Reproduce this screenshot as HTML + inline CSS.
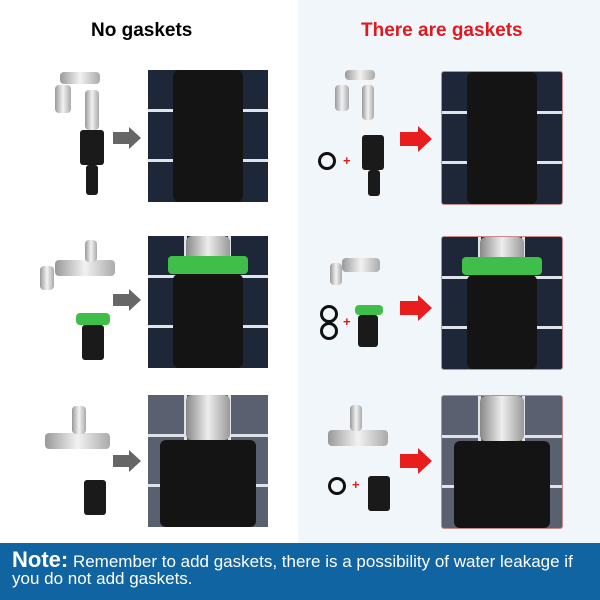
<!DOCTYPE html>
<html><head><meta charset="utf-8"><style>
body{margin:0;width:600px;height:600px;position:relative;overflow:hidden;background:#fff;font-family:"Liberation Sans",sans-serif}
.a{position:absolute}
.rbg{left:298px;top:0;width:302px;height:543px;background:#f1f6fb}
.h{font-weight:bold;font-size:19px;top:20px}
.ph{position:absolute;width:120px;height:132px;background-color:#1d2738;
background-image:linear-gradient(90deg,transparent 36px,#dfe3ea 36px,#dfe3ea 39px,transparent 39px,transparent 80px,#dfe3ea 80px,#dfe3ea 83px,transparent 83px),
linear-gradient(0deg,transparent 40px,#dfe3ea 40px,#dfe3ea 43px,transparent 43px,transparent 90px,#dfe3ea 90px,#dfe3ea 93px,transparent 93px);overflow:hidden}
.ph.r{border:1px solid #c98a8a;border-radius:3px}
.fit{position:absolute;left:25px;width:70px;background:#141414;border-radius:6px}
.grn{position:absolute;left:20px;width:80px;height:18px;background:#3fbf4a;border-radius:4px}
.pipe{position:absolute;left:38px;width:44px;background:linear-gradient(90deg,#888,#eee,#999);border-radius:6px}
.ga{position:absolute;width:0;height:0;border-top:11px solid transparent;border-bottom:11px solid transparent;border-left:12px solid #666}
.gb{position:absolute;width:16px;height:12px;background:#666}
.ra{position:absolute;width:0;height:0;border-top:13px solid transparent;border-bottom:13px solid transparent;border-left:14px solid #e81d1d}
.rb{position:absolute;width:18px;height:14px;background:#e81d1d}
.tap{position:absolute;background:linear-gradient(90deg,#999,#f2f2f2,#aaa);border-radius:4px}
.blk{position:absolute;background:#1a1a1a;border-radius:3px}
.ring{position:absolute;width:12px;height:12px;border:3px solid #111;border-radius:50%}
.plus{position:absolute;color:#e21a1a;font-weight:bold;font-size:13px}
</style></head><body>
<div class="a rbg"></div>
<div class="a h" style="left:91px">No gaskets</div>
<div class="a h" style="left:361px;color:#e0191f">There are gaskets</div>

<div class="tap" style="left:55px;top:85px;width:16px;height:28px"></div>
<div class="tap" style="left:60px;top:72px;width:40px;height:12px"></div>
<div class="tap" style="left:85px;top:90px;width:14px;height:40px"></div>
<div class="blk" style="left:80px;top:130px;width:24px;height:35px"></div>
<div class="blk" style="left:86px;top:165px;width:12px;height:30px"></div>
<div class="tap" style="left:40px;top:266px;width:14px;height:24px"></div>
<div class="tap" style="left:55px;top:260px;width:60px;height:16px"></div>
<div class="tap" style="left:85px;top:240px;width:12px;height:22px"></div>
<div class="grn" style="left:76px;top:313px;width:34px;height:12px"></div>
<div class="blk" style="left:82px;top:325px;width:22px;height:35px"></div>
<div class="tap" style="left:45px;top:433px;width:65px;height:16px"></div>
<div class="tap" style="left:72px;top:406px;width:14px;height:28px"></div>
<div class="blk" style="left:84px;top:480px;width:22px;height:35px"></div>

<div class="tap" style="left:335px;top:85px;width:14px;height:26px"></div>
<div class="tap" style="left:345px;top:70px;width:30px;height:10px"></div>
<div class="tap" style="left:362px;top:85px;width:12px;height:35px"></div>
<div class="blk" style="left:362px;top:135px;width:22px;height:35px"></div>
<div class="blk" style="left:368px;top:170px;width:12px;height:26px"></div>
<div class="ring" style="left:318px;top:152px"></div><div class="plus" style="left:343px;top:153px">+</div>
<div class="tap" style="left:330px;top:263px;width:12px;height:22px"></div>
<div class="tap" style="left:342px;top:258px;width:38px;height:14px"></div>
<div class="grn" style="left:355px;top:305px;width:28px;height:10px"></div>
<div class="blk" style="left:358px;top:315px;width:20px;height:32px"></div>
<div class="ring" style="left:320px;top:305px"></div><div class="ring" style="left:320px;top:322px"></div><div class="plus" style="left:343px;top:314px">+</div>
<div class="tap" style="left:328px;top:430px;width:60px;height:16px"></div>
<div class="tap" style="left:350px;top:405px;width:12px;height:26px"></div>
<div class="blk" style="left:368px;top:476px;width:22px;height:35px"></div>
<div class="ring" style="left:328px;top:477px"></div><div class="plus" style="left:352px;top:477px">+</div>

<div class="gb" style="left:113px;top:132px"></div><div class="ga" style="left:129px;top:127px"></div>
<div class="gb" style="left:113px;top:294px"></div><div class="ga" style="left:129px;top:289px"></div>
<div class="gb" style="left:113px;top:455px"></div><div class="ga" style="left:129px;top:450px"></div>
<div class="rb" style="left:400px;top:132px"></div><div class="ra" style="left:418px;top:126px"></div>
<div class="rb" style="left:400px;top:301px"></div><div class="ra" style="left:418px;top:295px"></div>
<div class="rb" style="left:400px;top:454px"></div><div class="ra" style="left:418px;top:448px"></div>

<div class="ph" style="left:148px;top:70px"><div class="fit" style="top:0;height:132px"></div></div>
<div class="ph" style="left:148px;top:236px"><div class="pipe" style="top:0;height:30px"></div><div class="grn" style="top:20px"></div><div class="fit" style="top:38px;height:94px"></div></div>
<div class="ph" style="left:148px;top:395px;background-color:#5a6070"><div class="pipe" style="top:0;height:45px"></div><div class="fit" style="top:45px;height:87px;left:12px;width:96px"></div></div>
<div class="ph r" style="left:441px;top:71px"><div class="fit" style="top:0;height:132px"></div></div>
<div class="ph r" style="left:441px;top:236px"><div class="pipe" style="top:0;height:30px"></div><div class="grn" style="top:20px"></div><div class="fit" style="top:38px;height:94px"></div></div>
<div class="ph r" style="left:441px;top:395px;background-color:#5a6070"><div class="pipe" style="top:0;height:45px"></div><div class="fit" style="top:45px;height:87px;left:12px;width:96px"></div></div>

<div class="a" style="left:0;top:543px;width:600px;height:57px;background:#0f64a1;color:#fff;font-size:17px;line-height:17px;padding:8px 0 0 12px;box-sizing:border-box;white-space:nowrap"><b style="font-size:22px">Note:</b> Remember to add gaskets, there is a possibility of water leakage if<br>you do not add gaskets.</div>
</body></html>
